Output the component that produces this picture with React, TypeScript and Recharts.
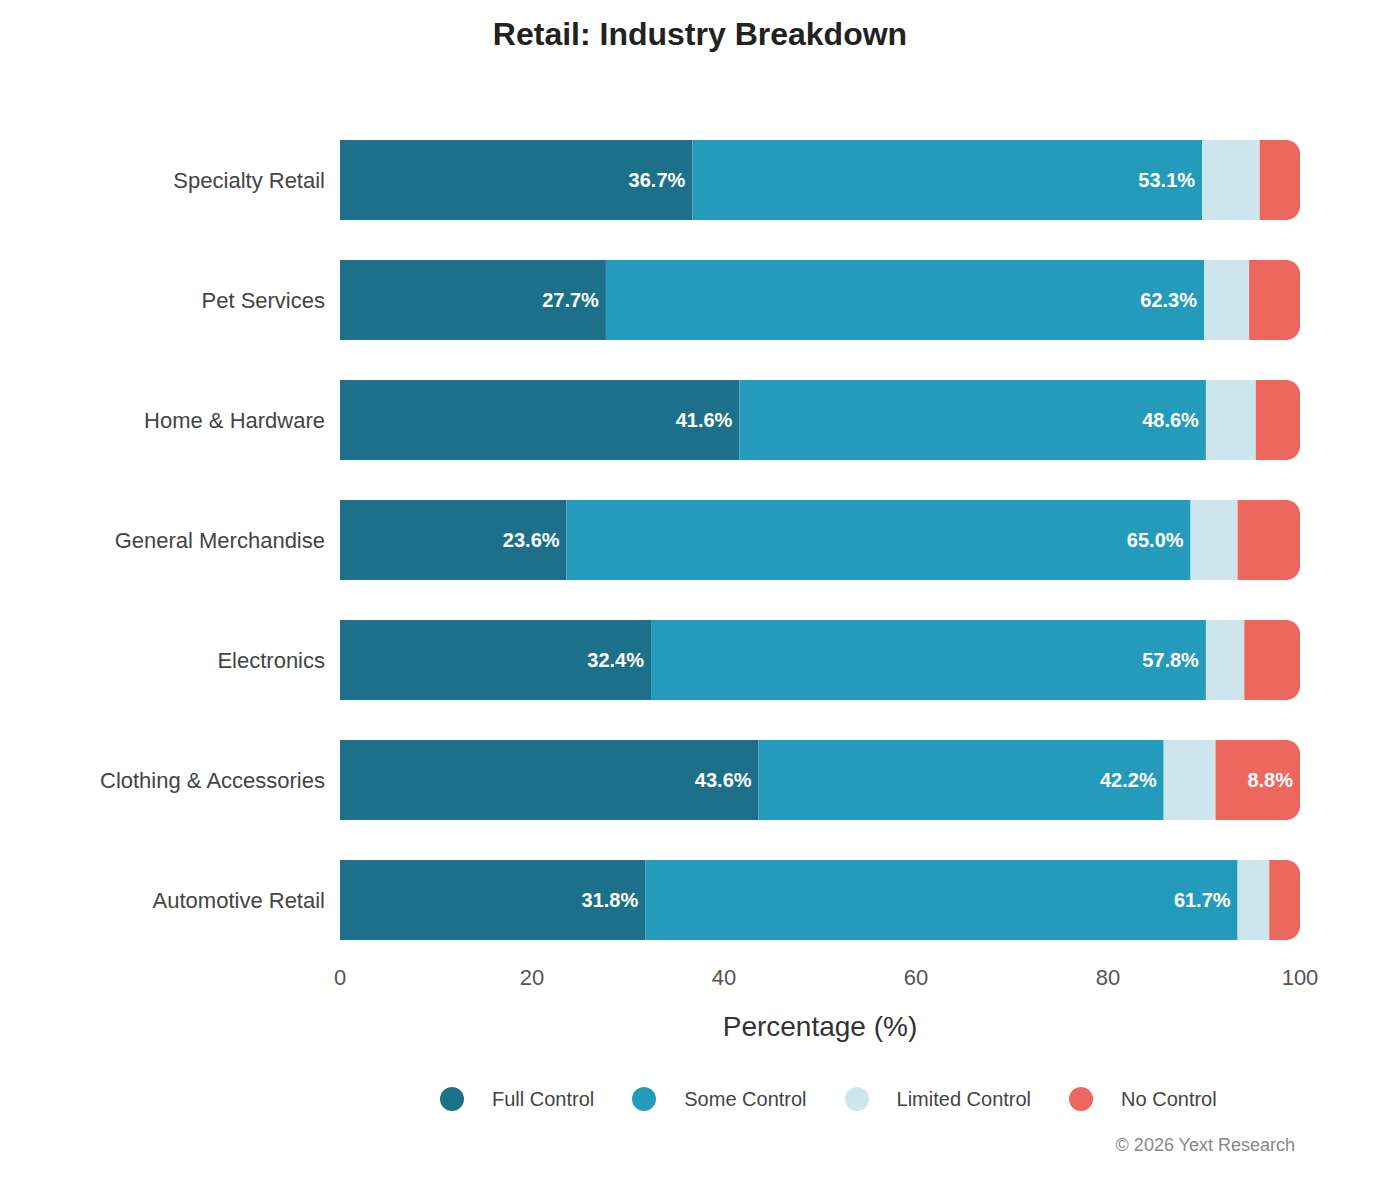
import { Bar, BarChart, LabelList, XAxis, YAxis } from "recharts";

const categories = [
  "Specialty Retail",
  "Pet Services",
  "Home & Hardware",
  "General Merchandise",
  "Electronics",
  "Clothing & Accessories",
  "Automotive Retail",
];
const fullControl = [36.7, 27.7, 41.6, 23.6, 32.4, 43.6, 31.8];
const someControl = [53.1, 62.3, 48.6, 65.0, 57.8, 42.2, 61.7];
const limitedControl = [6.0, 4.7, 5.2, 4.9, 4.0, 5.4, 3.3];
const noControl = [4.2, 5.3, 4.6, 6.5, 5.8, 8.8, 3.2];
const xTicks = [0, 20, 40, 60, 80, 100];

const SERIES = [
  { key: "full", name: "Full Control", color: "#1c7089" },
  { key: "some", name: "Some Control", color: "#259bbb" },
  { key: "limited", name: "Limited Control", color: "#cde5ed" },
  { key: "none", name: "No Control", color: "#ee675f" },
];

const FONT = "'Liberation Sans', Arial, sans-serif";

const data = categories.map((name, i) => ({
  name,
  full: fullControl[i],
  some: someControl[i],
  limited: limitedControl[i],
  none: noControl[i],
}));

const fmt = (v: any) => (typeof v === "number" && v >= 7 ? `${v.toFixed(1)}%` : "");

export default function App() {
  return (
    <div style={{ position: "absolute", left: 0, top: 0, width: 1400, height: 1180, fontFamily: FONT, background: "#fff" }}>
      <div style={{ position: "absolute", top: 16, width: 1400, textAlign: "center", fontSize: 32, fontWeight: 700, color: "#222" }}>
        Retail: Industry Breakdown
      </div>
      <div style={{ position: "absolute", left: 0, top: 0 }}>
        <BarChart
          width={1400}
          height={1180}
          data={data}
          layout="vertical"
          margin={{ top: 120, right: 100, bottom: 180, left: 10 }}
          barSize={80}
        >
          <XAxis
            type="number"
            domain={[0, 100]}
            ticks={xTicks}
            axisLine={false}
            tickLine={false}
            height={40}
            tickMargin={3}
            tick={{ fill: "#555", fontSize: 22, fontFamily: FONT }}
          />
          <YAxis
            type="category"
            dataKey="name"
            width={330}
            axisLine={false}
            tickLine={false}
            tickMargin={9}
            tick={{ fill: "#444", fontSize: 22, fontFamily: FONT }}
          />
          {SERIES.map((s, i) => (
            <Bar
              key={s.key}
              dataKey={s.key}
              name={s.name}
              stackId="a"
              fill={s.color}
              isAnimationActive={false}
              radius={i === SERIES.length - 1 ? [0, 14, 14, 0] : 0}
            >
              <LabelList
                dataKey={s.key}
                position="insideRight"
                offset={7}
                formatter={fmt}
                fill="#fff"
                fontSize={20}
                fontWeight={700}
                fontFamily={FONT}
              />
            </Bar>
          ))}
        </BarChart>
      </div>
      <div style={{ position: "absolute", top: 1011, left: 340, width: 960, textAlign: "center", fontSize: 28, color: "#333" }}>
        Percentage (%)
      </div>
      <div style={{ position: "absolute", top: 1087, left: 440, display: "flex", alignItems: "center" }}>
        {SERIES.map((s) => (
          <div key={s.key} style={{ display: "flex", alignItems: "center", marginRight: 38 }}>
            <span style={{ width: 24, height: 24, borderRadius: 12, background: s.color, display: "inline-block" }} />
            <span style={{ marginLeft: 28, fontSize: 20, color: "#444" }}>{s.name}</span>
          </div>
        ))}
      </div>
      <div style={{ position: "absolute", top: 1135, right: 105, fontSize: 18, color: "#888" }}>
        © 2026 Yext Research
      </div>
    </div>
  );
}
